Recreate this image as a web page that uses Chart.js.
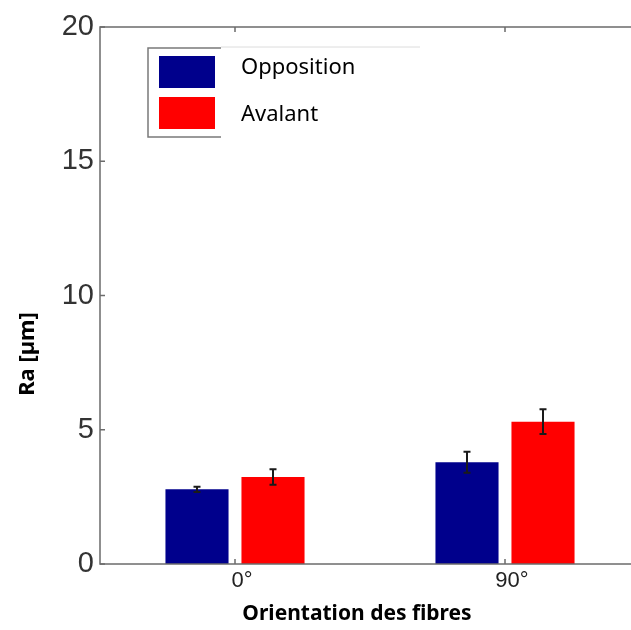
<!DOCTYPE html>
<html>
<head>
<meta charset="utf-8">
<script src="https://cdn.jsdelivr.net/npm/chart.js@4.4.1/dist/chart.umd.min.js"></script>
<style>
    html, body { margin: 0; padding: 0; background: #fff; overflow: hidden; }
    #wrap { width: 700px; height: 630px; }
</style>
</head>
<body>
<div id="wrap"><canvas id="myChart"></canvas></div>
<script>
// data
const categories = ['0°', '90°'];
const oppositionValues = [2.78, 3.79];
const oppositionErrors = [0.10, 0.39];
const avalantValues = [3.24, 5.30];
const avalantErrors = [0.29, 0.46];
const yTicks = [0, 5, 10, 15, 20];

const xTitle = 'Orientation des fibres';
const yTitle = 'Ra [µm]';

const data = {
    labels: categories,
    datasets: [{
        label: 'Opposition',
        data: oppositionValues,
        errors: oppositionErrors,
        backgroundColor: '#00008c',
        borderWidth: 0
    }, {
        label: 'Avalant',
        data: avalantValues,
        errors: avalantErrors,
        backgroundColor: '#ff0000',
        borderWidth: 0
    }]
};

// error bars on top of each bar
const errorBars = {
    id: 'errorBars',
    afterDatasetsDraw(chart) {
        const ctx = chart.ctx;
        const y = chart.scales.y;
        ctx.save();
        ctx.strokeStyle = '#1a1a1a';
        ctx.lineWidth = 2;
        chart.data.datasets.forEach((ds, i) => {
            chart.getDatasetMeta(i).data.forEach((bar, j) => {
                const top = y.getPixelForValue(ds.data[j] + ds.errors[j]);
                const bot = y.getPixelForValue(ds.data[j] - ds.errors[j]);
                ctx.beginPath();
                ctx.moveTo(bar.x, top);
                ctx.lineTo(bar.x, bot);
                ctx.moveTo(bar.x - 3.5, top);
                ctx.lineTo(bar.x + 3.5, top);
                ctx.moveTo(bar.x - 3.5, bot);
                ctx.lineTo(bar.x + 3.5, bot);
                ctx.stroke();
            });
        });
        ctx.restore();
    }
};

// frame, inner ticks, legend and axis titles (matlab look)
const decorations = {
    id: 'decorations',
    afterDraw(chart) {
        const ctx = chart.ctx;
        const a = chart.chartArea;
        const x = chart.scales.x;
        const y = chart.scales.y;
        ctx.save();

        ctx.strokeStyle = '#6b6b6b';
        ctx.lineWidth = 1.5;
        ctx.strokeRect(a.left, a.top, a.right - a.left, a.bottom - a.top);

        // inner ticks
        ctx.beginPath();
        categories.forEach((c, i) => {
            const px = x.getPixelForValue(i);
            ctx.moveTo(px, a.bottom);
            ctx.lineTo(px, a.bottom - 5);
            ctx.moveTo(px, a.top);
            ctx.lineTo(px, a.top + 5);
        });
        yTicks.forEach(v => {
            const py = y.getPixelForValue(v);
            ctx.moveTo(a.left, py);
            ctx.lineTo(a.left + 5, py);
        });
        ctx.stroke();

        // legend
        ctx.fillStyle = '#fff';
        ctx.fillRect(148, 48, 73, 89);
        ctx.strokeStyle = '#7a7a7a';
        ctx.beginPath();
        ctx.moveTo(221, 48);
        ctx.lineTo(148, 48);
        ctx.lineTo(148, 137);
        ctx.lineTo(221, 137);
        ctx.stroke();
        chart.data.datasets.forEach((ds, i) => {
            ctx.fillStyle = ds.backgroundColor;
            ctx.fillRect(159, 56 + i * 41, 56, 32);
        });
        ctx.fillStyle = '#fff';
        ctx.fillRect(221, 47, 199, 91);
        ctx.strokeStyle = '#dcdcdc';
        ctx.lineWidth = 1;
        ctx.beginPath();
        ctx.moveTo(221, 47);
        ctx.lineTo(420, 47);
        ctx.stroke();
        ctx.fillStyle = '#000';
        ctx.font = '22px "Noto Sans"';
        ctx.textBaseline = 'middle';
        ctx.textAlign = 'left';
        chart.data.datasets.forEach((ds, i) => {
            ctx.fillText(ds.label, 241, 68 + i * 47);
        });

        // axis titles
        ctx.font = 'bold 21px "Noto Sans"';
        ctx.textAlign = 'center';
        ctx.textBaseline = 'alphabetic';
        ctx.fillText(xTitle, 357, 620);
        ctx.font = 'bold 22px "Noto Sans"';
        ctx.translate(34, 354);
        ctx.rotate(-Math.PI / 2);
        ctx.fillText(yTitle, 0, 0);
        ctx.restore();
    }
};

const config = {
    type: 'bar',
    data: data,
    options: {
        responsive: true,
        maintainAspectRatio: false,
        animation: false,
        layout: {
            padding: { top: 27, right: 60, bottom: 0, left: 0 }
        },
        plugins: {
            legend: { display: false },
            tooltip: { enabled: false }
        },
        datasets: {
            bar: {
                categoryPercentage: 0.563,
                barPercentage: 0.83
            }
        },
        scales: {
            x: {
                offset: true,
                grid: { display: false, drawTicks: false },
                border: { display: false },
                ticks: {
                    padding: 4,
                    labelOffset: 7,
                    color: '#222',
                    font: { family: 'Liberation Sans', size: 22 }
                },
                afterFit(scale) { scale.height = 66; }
            },
            y: {
                min: 0,
                max: 20,
                afterBuildTicks(scale) {
                    scale.ticks = yTicks.map(v => ({ value: v }));
                },
                grid: { display: false, drawTicks: false },
                border: { display: false },
                ticks: {
                    padding: 6,
                    color: '#333',
                    font: { family: 'Liberation Sans', size: 29 }
                },
                afterFit(scale) { scale.width = 100; }
            }
        }
    },
    plugins: [errorBars, decorations]
};

// Render the chart
const myChart = new Chart(
    document.getElementById('myChart'),
    config
);
</script>
</body>
</html>
